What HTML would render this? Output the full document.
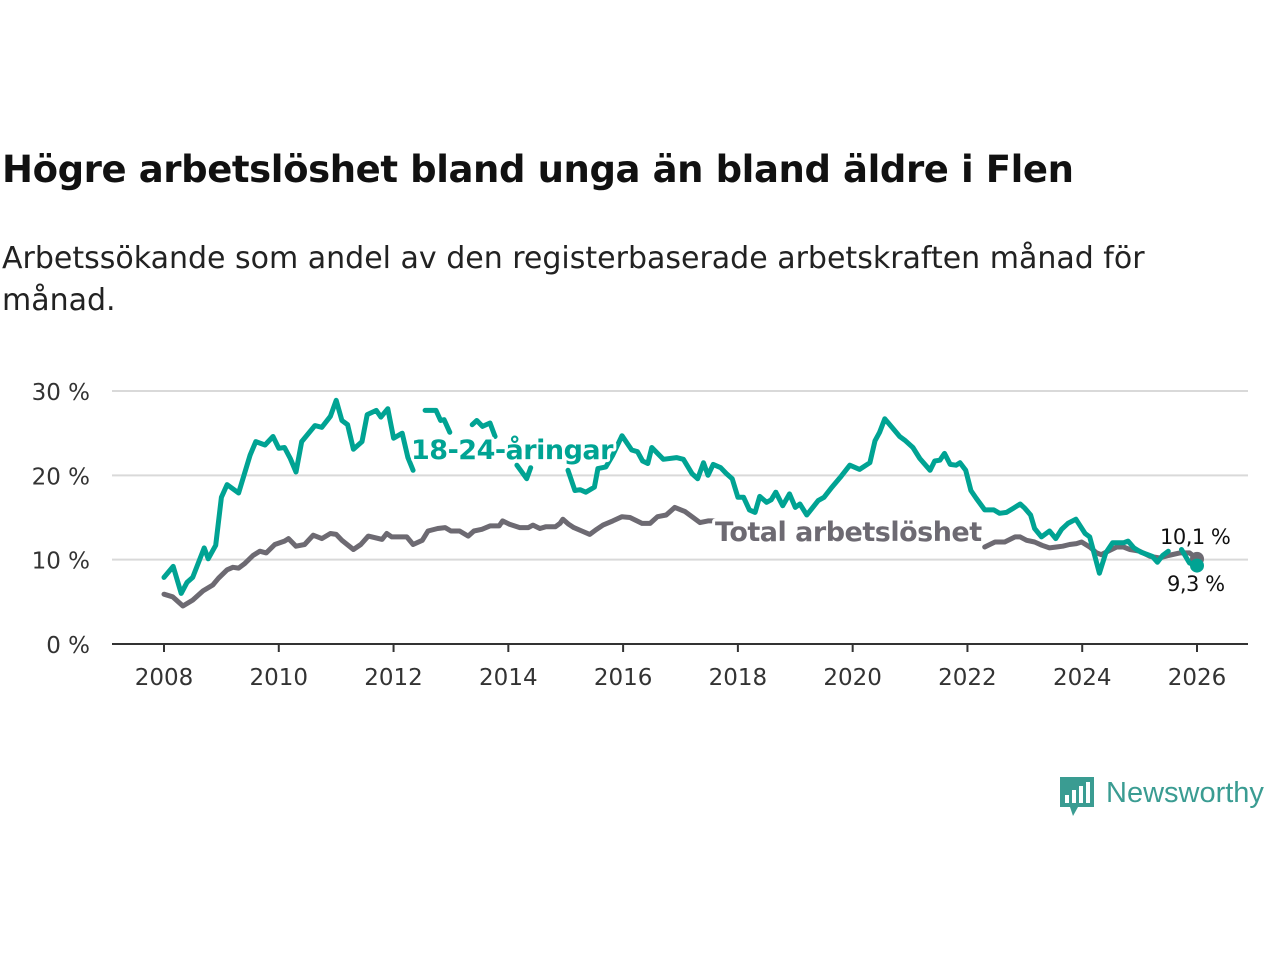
<!DOCTYPE html>
<html><head><meta charset="utf-8">
<style>
html,body{margin:0;padding:0;background:#fff;width:1280px;height:960px;overflow:hidden;font-family:"DejaVu Sans","Liberation Sans",sans-serif;}
#title{position:absolute;left:2px;top:148px;font-size:37px;font-weight:bold;color:#111;margin:0;letter-spacing:-0.4px;white-space:nowrap}
#sub{position:absolute;left:2px;top:238px;font-size:30px;color:#222;line-height:42px;width:1175px;margin:0}
svg{position:absolute;left:0;top:0}
</style></head><body>
<h1 id="title">Högre arbetslöshet bland unga än bland äldre i Flen</h1>
<p id="sub">Arbetssökande som andel av den registerbaserade arbetskraften månad för månad.</p>
<svg id="chart" width="1280" height="960"></svg>
<script>
const youthYears=[2008,2008.16,2008.3,2008.4,2008.5,2008.7,2008.77,2008.9,2009.0,2009.1,2009.3,2009.5,2009.6,2009.76,2009.9,2010.0,2010.1,2010.2,2010.3,2010.4,2010.63,2010.75,2010.9,2011.0,2011.1,2011.2,2011.3,2011.45,2011.54,2011.7,2011.78,2011.9,2012.0,2012.15,2012.25,2012.34,2012.45,2012.55,2012.74,2012.82,2012.88,2012.98,2013.15,2013.37,2013.45,2013.55,2013.68,2013.77,2013.95,2014.15,2014.32,2014.39,2014.7,2015.04,2015.16,2015.25,2015.35,2015.5,2015.56,2015.7,2015.82,2015.98,2016.15,2016.25,2016.34,2016.43,2016.5,2016.7,2016.93,2017.05,2017.2,2017.3,2017.4,2017.48,2017.57,2017.7,2017.8,2017.9,2018.0,2018.1,2018.2,2018.3,2018.38,2018.5,2018.58,2018.66,2018.78,2018.9,2019.0,2019.08,2019.2,2019.4,2019.5,2019.64,2019.8,2019.95,2020.12,2020.3,2020.39,2020.47,2020.56,2020.82,2020.92,2021.05,2021.17,2021.35,2021.43,2021.52,2021.6,2021.7,2021.8,2021.87,2021.97,2022.06,2022.15,2022.3,2022.46,2022.56,2022.68,2022.8,2022.92,2023.0,2023.1,2023.17,2023.29,2023.43,2023.54,2023.64,2023.75,2023.89,2024.05,2024.13,2024.3,2024.41,2024.53,2024.72,2024.8,2024.9,2025.02,2025.14,2025.22,2025.31,2025.4,2025.5,2025.62,2025.73,2025.87,2026.0];
const youthVals=[7.9,9.2,6.0,7.3,7.9,11.4,10.1,11.7,17.4,18.9,17.9,22.4,24.0,23.6,24.6,23.2,23.3,22.0,20.4,24.0,25.9,25.7,27.0,28.9,26.5,26.0,23.1,24.0,27.2,27.7,26.9,27.9,24.4,25.0,22.1,20.6,null,27.7,27.7,26.5,26.6,25.1,null,26.0,26.5,25.8,26.2,24.6,null,21.2,19.6,20.9,null,20.6,18.2,18.3,18.0,18.6,20.8,21.0,22.4,24.7,23.0,22.8,21.7,21.4,23.3,21.9,22.1,21.9,20.2,19.6,21.5,20.0,21.3,20.9,20.2,19.6,17.4,17.4,15.9,15.6,17.5,16.8,17.1,18.0,16.4,17.8,16.2,16.6,15.3,17.0,17.4,18.6,19.9,21.2,20.7,21.5,24.1,25.1,26.7,24.6,24.1,23.3,22.0,20.6,21.7,21.8,22.6,21.3,21.2,21.5,20.6,18.2,17.3,15.9,15.9,15.5,15.6,16.1,16.6,16.1,15.3,13.7,12.7,13.4,12.5,13.6,14.3,14.8,13.1,12.7,8.4,10.8,12.0,12.0,12.2,11.4,10.9,10.6,10.4,9.7,10.5,11.0,null,11.2,9.6,9.3];
const totalYears=[2008,2008.15,2008.33,2008.5,2008.68,2008.85,2008.95,2009.1,2009.2,2009.3,2009.4,2009.55,2009.67,2009.78,2009.93,2010.1,2010.17,2010.3,2010.45,2010.6,2010.75,2010.9,2011.0,2011.1,2011.3,2011.43,2011.56,2011.8,2011.88,2011.97,2012.23,2012.34,2012.5,2012.6,2012.77,2012.9,2013.0,2013.15,2013.3,2013.4,2013.54,2013.68,2013.84,2013.9,2014.02,2014.2,2014.35,2014.43,2014.55,2014.65,2014.82,2014.9,2014.95,2015.05,2015.14,2015.28,2015.42,2015.54,2015.65,2015.82,2015.98,2016.12,2016.33,2016.47,2016.6,2016.75,2016.9,2017.08,2017.22,2017.34,2017.48,2017.6,2020.0,2022.3,2022.48,2022.65,2022.83,2022.92,2023.03,2023.17,2023.3,2023.43,2023.55,2023.66,2023.78,2023.9,2023.99,2024.13,2024.25,2024.33,2024.48,2024.6,2024.72,2024.83,2025.0,2025.18,2025.35,2025.5,2025.7,2025.87,2026.0];
const totalVals=[5.9,5.6,4.5,5.2,6.3,7.0,7.8,8.8,9.1,9.0,9.5,10.5,11.0,10.8,11.8,12.2,12.5,11.6,11.8,12.9,12.5,13.1,13.0,12.3,11.2,11.8,12.8,12.4,13.1,12.7,12.7,11.8,12.3,13.4,13.7,13.8,13.4,13.4,12.8,13.4,13.6,14.0,14.0,14.6,14.2,13.8,13.8,14.1,13.7,13.9,13.9,14.3,14.8,14.2,13.8,13.4,13.0,13.6,14.1,14.6,15.1,15.0,14.3,14.3,15.1,15.3,16.2,15.7,15.0,14.4,14.6,14.6,null,11.5,12.1,12.1,12.7,12.7,12.3,12.1,11.7,11.4,11.5,11.6,11.8,11.9,12.1,11.5,10.8,10.6,11.1,11.5,11.5,11.2,11.0,10.4,10.2,10.5,10.8,10.8,10.1];
const xTicks=[2008,2010,2012,2014,2016,2018,2020,2022,2024,2026];
const yTicks=[0,10,20,30];

const NS="http://www.w3.org/2000/svg";
const svg=document.getElementById('chart');
const X=y=>164+(y-2008)*(1197-164)/18;
const Y=v=>644-v*(644-391)/30;
function mk(t,a,p){const e=document.createElementNS(NS,t);for(const k in a)e.setAttribute(k,a[k]);(p||svg).appendChild(e);return e;}
yTicks.forEach(v=>{
  if(v>0){const g=mk('line',{x1:112,x2:1248,y1:Y(v),y2:Y(v),stroke:'#d9d9d9','stroke-width':2});
  
  }
  const t=mk('text',{x:90,y:Y(v)+9,'text-anchor':'end','font-size':23,fill:'#333'});
  t.textContent=v+' %';
  
  
});
const ax=mk('line',{x1:112,x2:1248,y1:644,y2:644,stroke:'#333','stroke-width':2});


xTicks.forEach(y=>{
  mk('line',{x1:X(y),x2:X(y),y1:644,y2:652,stroke:'#333','stroke-width':2});
  const t=mk('text',{x:X(y),y:685,'text-anchor':'middle','font-size':23,fill:'#333'});
  t.textContent=y;
  
  
});
function line(ys,vs,col,name){
  let d='',pen=false;
  ys.forEach((y,i)=>{
    if(vs[i]===null){pen=false;return;}
    d+=(pen?'L':'M')+X(y).toFixed(1)+','+Y(vs[i]).toFixed(1);pen=true;
  });
  const p=mk('path',{d:d,fill:'none',stroke:col,'stroke-width':5,'stroke-linejoin':'round','stroke-linecap':'round'});
  
  
  const c=mk('circle',{cx:X(ys[ys.length-1]),cy:Y(vs[vs.length-1]),r:7,fill:col});
  
  
}
line(totalYears,totalVals,'#6d6a72','total-line');
line(youthYears,youthVals,'#00a393','youth-line');
function lab(x,y,txt,col,size,w,name,bold){
  const t=mk('text',{x:x,y:y,'font-size':size,fill:col,'font-weight':bold?'bold':'normal',stroke:'#fff','stroke-width':w,'paint-order':'stroke','stroke-linejoin':'round','letter-spacing':'-0.5'});
  t.textContent=txt;
  
  
}
lab(411,459,'18-24-åringar','#00a393',27,6,'youth-series-label',true);
lab(715,541,'Total arbetslöshet','#6d6a72',27,6,'total-series-label',true);
lab(1160,544,'10,1 %','#111',21,5,'total-end-value',false);
lab(1167,591,'9,3 %','#111',21,5,'youth-end-value',false);
</script>
<svg width="1280" height="960" style="pointer-events:none">
<path d="M1060,777 h34 v30 h-16 l-5,9 l-3,-9 h-10 z" fill="#3a9c92"/>
<rect x="1065" y="795" width="4" height="8" fill="#fff"/><rect x="1072" y="790" width="4" height="13" fill="#fff"/><rect x="1079" y="786" width="4" height="17" fill="#fff"/><rect x="1086" y="782" width="4" height="21" fill="#fff"/>
<text x="1106" y="802" font-size="29" fill="#3a9c92" font-family="Liberation Sans, sans-serif">Newsworthy</text>
</svg>
</body></html>
